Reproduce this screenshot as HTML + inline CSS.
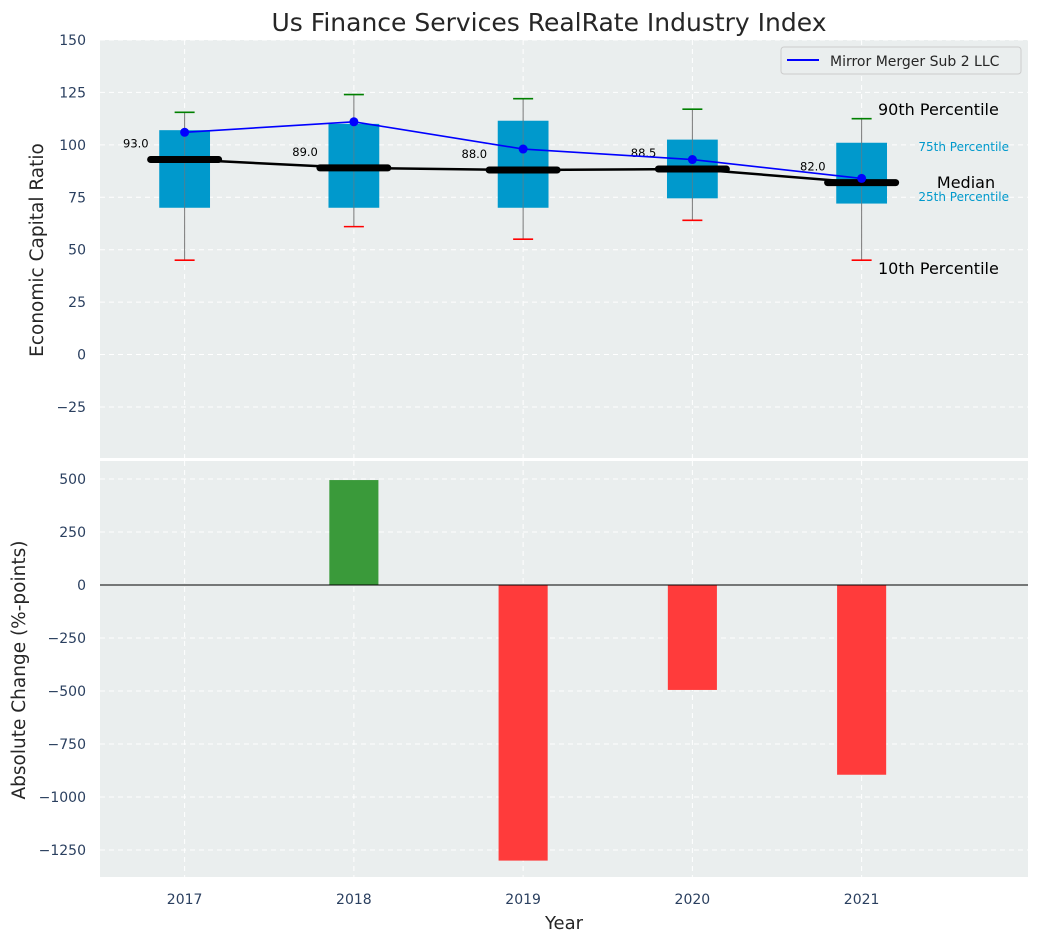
<!DOCTYPE html>
<html><head><meta charset="utf-8"><style>
body{margin:0;background:#fff;font-family:"Liberation Sans","DejaVu Sans",sans-serif}
svg text{font-family:"DejaVu Sans","Liberation Sans",sans-serif}
</style></head><body>
<svg id="c" width="1039" height="942" xmlns="http://www.w3.org/2000/svg"></svg>
<script>
const years=[2017,2018,2019,2020,2021];
const q1=[70,70,70,74.5,72];
const q3=[107,110,111.5,102.5,101];
const med=[93,89,88,88.5,82];
const p10=[45,61,55,64,45];
const p90=[115.5,124,122,117,112.5];
const company=[106,111,98,93,84];
const change=[0,495,-1300,-495,-895];
const topTicks=[150,125,100,75,50,25,0,-25];
const botTicks=[500,250,0,-250,-500,-750,-1000,-1250];
const NS="http://www.w3.org/2000/svg";
const svg=document.getElementById('c');
function mk(t,a,p){const e=document.createElementNS(NS,t);for(const k in a)e.setAttribute(k,a[k]);(p||svg).appendChild(e);return e;}
const L=100,R=1028;
const x=v=>L+(v-2016.5)/(2021.983-2016.5)*(R-L);
const yT=v=>40+(150-v)*2.097;
const yB=v=>585-v*0.212;
let e=mk('rect',{x:L,y:40,width:R-L,height:418,fill:'#eaeeee'});

e=mk('rect',{x:L,y:461,width:R-L,height:416,fill:'#eaeeee'});

topTicks.forEach(t=>{mk('line',{x1:L,x2:R,y1:yT(t),y2:yT(t),stroke:'#fff','stroke-dasharray':'5,4','stroke-width':1});
 e=mk('text',{x:86,y:yT(t)+5,'text-anchor':'end','font-size':14,fill:'#2a3f5f'});e.textContent=t<0?'\u2212'+(-t):t;
 });
botTicks.forEach(t=>{mk('line',{x1:L,x2:R,y1:yB(t),y2:yB(t),stroke:'#fff','stroke-dasharray':'5,4','stroke-width':1});
 e=mk('text',{x:86,y:yB(t)+5,'text-anchor':'end','font-size':14,fill:'#2a3f5f'});e.textContent=t<0?'\u2212'+(-t):t;
 });
years.forEach(yr=>{mk('line',{x1:x(yr),x2:x(yr),y1:40,y2:458,stroke:'#fff','stroke-dasharray':'5,4'});
 mk('line',{x1:x(yr),x2:x(yr),y1:461,y2:877,stroke:'#fff','stroke-dasharray':'5,4'});
 e=mk('text',{x:x(yr),y:904,'text-anchor':'middle','font-size':14,fill:'#2a3f5f'});e.textContent=yr;
 });
const bw=x(2017.15)-x(2017);
years.forEach((yr,i)=>{const cx=x(yr);
 e=mk('line',{x1:cx,x2:cx,y1:yT(p10[i]),y2:yT(p90[i]),stroke:'#777','stroke-width':1});
 
 e=mk('rect',{x:cx-bw,y:yT(q3[i]),width:2*bw,height:yT(q1[i])-yT(q3[i]),fill:'#0099cc'});
 
 mk('line',{x1:cx,x2:cx,y1:yT(q3[i]),y2:yT(q1[i]),stroke:'#777','stroke-width':1,opacity:0.6});
 mk('line',{x1:cx-10,x2:cx+10,y1:yT(p90[i]),y2:yT(p90[i]),stroke:'green','stroke-width':1.6});
 mk('line',{x1:cx-10,x2:cx+10,y1:yT(p10[i]),y2:yT(p10[i]),stroke:'red','stroke-width':1.6});
});
e=mk('polyline',{points:years.map((yr,i)=>x(yr)+','+yT(med[i])).join(' '),fill:'none',stroke:'#000','stroke-width':2.5});

years.forEach((yr,i)=>{const cx=x(yr);
 e=mk('line',{x1:cx-34,x2:cx+34,y1:yT(med[i]),y2:yT(med[i]),stroke:'#000','stroke-width':7,'stroke-linecap':'round'});
 
 e=mk('text',{x:cx-36,y:yT(med[i])-12,'text-anchor':'end','font-size':11.5,fill:'#000'});e.textContent=med[i].toFixed(1);
 });
e=mk('polyline',{points:years.map((yr,i)=>x(yr)+','+yT(company[i])).join(' '),fill:'none',stroke:'#0000ff','stroke-width':1.6});

years.forEach((yr,i)=>{e=mk('circle',{cx:x(yr),cy:yT(company[i]),r:4.5,fill:'#0000ff'});
 });
const ann=[[878,115,'90th Percentile',16,'#000','start'],[1009,151,'75th Percentile',12,'#0099cc','end'],[966,188,'Median',16,'#000','middle'],[1009,201,'25th Percentile',12,'#0099cc','end'],[878,274,'10th Percentile',16,'#000','start']];
ann.forEach(a=>{e=mk('text',{x:a[0],y:a[1],'font-size':a[3],fill:a[4],'text-anchor':a[5]});e.textContent=a[2];
 });
e=mk('rect',{x:781,y:47,width:240,height:27,rx:3,fill:'#eaeeee',stroke:'#ccc'});

mk('line',{x1:787,x2:819,y1:60,y2:60,stroke:'#0000ff','stroke-width':2});
e=mk('text',{x:830,y:66,'font-size':14,fill:'#262626'});e.textContent='Mirror Merger Sub 2 LLC';

const barW=x(2017.145)-x(2017);
years.forEach((yr,i)=>{const v=change[i];if(v===0)return;
 e=mk('rect',{x:x(yr)-barW,y:Math.min(yB(v),yB(0)),width:2*barW,height:Math.abs(yB(v)-yB(0)),fill:v>0?'#3a9a3a':'#ff3b3b'});
 });
mk('line',{x1:L,x2:R,y1:yB(0),y2:yB(0),stroke:'#000','stroke-width':0.9});
e=mk('text',{x:549,y:31,'text-anchor':'middle','font-size':25,fill:'#262626'});e.textContent='Us Finance Services RealRate Industry Index';

e=mk('text',{x:564,y:929,'text-anchor':'middle','font-size':18,fill:'#262626'});e.textContent='Year';

e=mk('text',{x:43,y:250,'text-anchor':'middle','font-size':18.5,fill:'#262626',transform:'rotate(-90 43 250)'});e.textContent='Economic Capital Ratio';

e=mk('text',{x:25,y:670,'text-anchor':'middle','font-size':18.5,fill:'#262626',transform:'rotate(-90 25 670)'});e.textContent='Absolute Change (%-points)';

</script>
</body></html>
